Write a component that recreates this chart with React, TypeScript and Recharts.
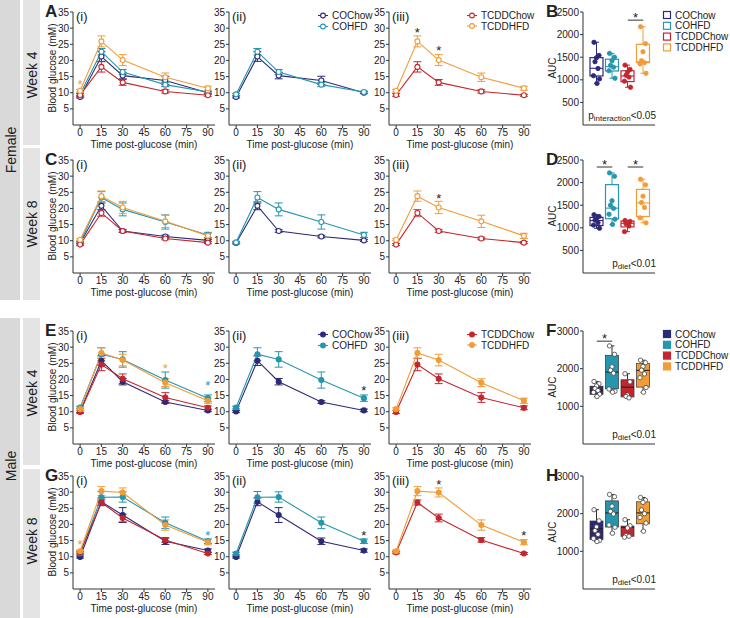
import React from 'react';
import { ComposedChart, Line, ErrorBar, XAxis, YAxis, Scatter, Bar, ReferenceLine } from 'recharts';

const TIMES = [0, 15, 30, 60, 90];
const TICK_T = [0, 15, 30, 45, 60, 75, 90];
const TICK_G = [5, 10, 15, 20, 25, 30, 35];
const TICK_AUC_F = [0, 500, 1000, 1500, 2000, 2500];
const TICK_AUC_M = [0, 1000, 2000, 3000];
const GROUPS = ['COChow', 'COHFD', 'TCDDChow', 'TCDDHFD'];

const COLORS: Record<string, string> = {
  COChow: '#2c2a78',
  COHFD: '#2596ae',
  TCDDChow: '#c4262e',
  TCDDHFD: '#f29c38',
};
const INK = '#222';

// blood glucose (mM), mean / SEM
// female week 4
const F4_COCHOW = [8.7, 21.2, 15.3, 13.8, 10.0];
const F4_COCHOW_SEM = [0.3, 1.5, 1.0, 1.3, 0.3];
const F4_COHFD = [9.5, 22.7, 16.4, 12.5, 10.2];
const F4_COHFD_SEM = [0.3, 1.0, 0.8, 0.6, 0.3];
const F4_TCDDCHOW = [9.3, 18.0, 13.2, 10.4, 9.2];
const F4_TCDDCHOW_SEM = [0.4, 1.6, 0.9, 0.5, 0.3];
const F4_TCDDHFD = [10.6, 25.9, 20.1, 14.8, 11.4];
const F4_TCDDHFD_SEM = [0.4, 1.7, 1.7, 1.3, 0.6];
// female week 8
const F8_COCHOW = [9.3, 20.8, 13.0, 11.3, 10.1];
const F8_COCHOW_SEM = [0.3, 1.2, 0.4, 0.4, 0.3];
const F8_COHFD = [9.5, 23.4, 19.7, 15.8, 11.8];
const F8_COHFD_SEM = [0.3, 1.8, 2.0, 2.2, 0.8];
const F8_TCDDCHOW = [8.8, 18.6, 13.0, 10.7, 9.4];
const F8_TCDDCHOW_SEM = [0.3, 1.0, 0.4, 0.4, 0.3];
const F8_TCDDHFD = [10.3, 23.8, 20.3, 16.0, 11.5];
const F8_TCDDHFD_SEM = [0.3, 1.6, 1.9, 1.9, 0.8];
// male week 4
const M4_COCHOW = [10.1, 25.8, 19.3, 13.0, 10.4];
const M4_COCHOW_SEM = [0.3, 1.5, 1.0, 0.4, 0.4];
const M4_COHFD = [11.3, 27.8, 26.2, 19.8, 14.2];
const M4_COHFD_SEM = [0.4, 2.0, 2.4, 2.5, 1.0];
const M4_TCDDCHOW = [9.9, 24.6, 20.2, 14.4, 11.2];
const M4_TCDDCHOW_SEM = [0.5, 1.9, 1.5, 1.5, 0.6];
const M4_TCDDHFD = [10.8, 28.2, 26.0, 19.0, 13.4];
const M4_TCDDHFD_SEM = [0.4, 1.6, 1.8, 1.2, 0.8];
// male week 8
const M8_COCHOW = [9.9, 27.0, 22.9, 14.8, 11.9];
const M8_COCHOW_SEM = [0.3, 1.2, 2.3, 1.0, 0.5];
const M8_COHFD = [11.0, 28.4, 28.5, 20.5, 14.8];
const M8_COHFD_SEM = [0.4, 1.8, 1.6, 1.8, 0.7];
const M8_TCDDCHOW = [11.3, 26.8, 22.0, 15.2, 11.0];
const M8_TCDDCHOW_SEM = [0.4, 0.8, 1.2, 0.7, 0.3];
const M8_TCDDHFD = [11.7, 30.3, 29.9, 19.8, 14.5];
const M8_TCDDHFD_SEM = [0.4, 1.4, 1.4, 1.6, 0.8];

// significance stars per panel (i), (ii), (iii)
const F4_STARS = [[{ t: 0, y: 13.3, c: COLORS.TCDDHFD }], [], [{ t: 15, y: 29.4, c: INK }, { t: 30, y: 23.8, c: INK }]];
const F8_STARS = [[], [], [{ t: 30, y: 24.0, c: INK }]];
const M4_STARS = [[{ t: 60, y: 24.2, c: COLORS.TCDDHFD }, { t: 90, y: 18.8, c: COLORS.COHFD }], [{ t: 90, y: 17.3, c: INK }], []];
const M8_STARS = [[{ t: 0, y: 14.5, c: COLORS.TCDDHFD }, { t: 90, y: 17.3, c: COLORS.COHFD }], [{ t: 90, y: 17.4, c: INK }], [{ t: 30, y: 33.2, c: INK }, { t: 90, y: 17.2, c: INK }]];

// AUC: [min, q1, median, q3, max] and individual animals
const F4_AUC_COCHOW = [920, 1085, 1255, 1490, 1830];
const F4_AUC_COHFD = [1035, 1195, 1290, 1455, 1585];
const F4_AUC_TCDDCHOW = [835, 960, 1085, 1200, 1325];
const F4_AUC_TCDDHFD = [1145, 1380, 1400, 1785, 2175];
const F4_PTS_COCHOW = [1830, 1540, 1490, 1400, 1250, 1090, 1020, 920];
const F4_PTS_COHFD = [1585, 1500, 1420, 1320, 1280, 1200, 1035];
const F4_PTS_TCDDCHOW = [1325, 1230, 1170, 1100, 1060, 970, 835];
const F4_PTS_TCDDHFD = [2175, 1800, 1620, 1420, 1380, 1350, 1145];

const F8_AUC_COCHOW = [990, 1050, 1160, 1230, 1290];
const F8_AUC_COHFD = [1075, 1200, 1435, 1955, 2215];
const F8_AUC_TCDDCHOW = [915, 1020, 1100, 1150, 1160];
const F8_AUC_TCDDHFD = [1110, 1250, 1550, 1850, 2075];
const F8_PTS_COCHOW = [1290, 1250, 1200, 1170, 1110, 1060, 990];
const F8_PTS_COHFD = [2215, 2140, 1600, 1500, 1430, 1300, 1190, 1075];
const F8_PTS_TCDDCHOW = [1160, 1140, 1110, 1090, 1040, 915];
const F8_PTS_TCDDHFD = [2075, 1950, 1700, 1560, 1450, 1220, 1110];

const M4_AUC_COCHOW = [1260, 1315, 1420, 1535, 1660];
const M4_AUC_COHFD = [1375, 1465, 1910, 2355, 2605];
const M4_AUC_TCDDCHOW = [1225, 1250, 1510, 1705, 1865];
const M4_AUC_TCDDHFD = [1375, 1510, 1955, 2135, 2225];
const M4_PTS_COCHOW = [1660, 1600, 1540, 1470, 1420, 1370, 1320, 1260];
const M4_PTS_COHFD = [2605, 2380, 2050, 1960, 1880, 1460, 1400, 1375];
const M4_PTS_TCDDCHOW = [1865, 1650, 1300, 1265, 1225];
const M4_PTS_TCDDHFD = [2225, 2160, 2060, 1960, 1860, 1760, 1500, 1375];

const M8_AUC_COCHOW = [1260, 1315, 1600, 1805, 2105];
const M8_AUC_COHFD = [1480, 1645, 2020, 2340, 2510];
const M8_AUC_TCDDCHOW = [1375, 1400, 1640, 1670, 1840];
const M8_AUC_TCDDHFD = [1535, 1730, 2020, 2315, 2430];
const M8_PTS_COCHOW = [2105, 1810, 1650, 1550, 1450, 1340, 1290, 1260];
const M8_PTS_COHFD = [2510, 2450, 2200, 2060, 1990, 1700, 1640, 1480];
const M8_PTS_TCDDCHOW = [1840, 1680, 1620, 1420, 1400, 1375];
const M8_PTS_TCDDHFD = [2430, 2360, 2300, 2100, 2000, 1900, 1750, 1535];

const JITTER = [-2.5, 2.5, 0, -1.5, 1.5, -3, 3, 0.5];

const glucoseRows = (mean: number[][], sem: number[][]) =>
  TIMES.map((t, i) => {
    const r: any = { t };
    GROUPS.forEach((g, k) => {
      r[g] = mean[k][i];
      r[g + 'Err'] = sem[k][i];
    });
    return r;
  });

const boxRows = (stats: number[][], pts: number[][]) =>
  GROUPS.map((g, k) => ({
    g,
    min: stats[k][0],
    q1: stats[k][1],
    med: stats[k][2],
    q3: stats[k][3],
    max: stats[k][4],
    pts: pts[k],
  }));

const ROWS = [
  {
    top: 12, filled: false, stars: F4_STARS, letter: 'A', boxLetter: 'B',
    data: glucoseRows([F4_COCHOW, F4_COHFD, F4_TCDDCHOW, F4_TCDDHFD], [F4_COCHOW_SEM, F4_COHFD_SEM, F4_TCDDCHOW_SEM, F4_TCDDHFD_SEM]),
    boxes: boxRows([F4_AUC_COCHOW, F4_AUC_COHFD, F4_AUC_TCDDCHOW, F4_AUC_TCDDHFD], [F4_PTS_COCHOW, F4_PTS_COHFD, F4_PTS_TCDDCHOW, F4_PTS_TCDDHFD]),
    aucTicks: TICK_AUC_F, sig: [['TCDDChow', 'TCDDHFD', 2320]], note: 'interaction', p: '<0.05',
  },
  {
    top: 160, filled: false, stars: F8_STARS, letter: 'C', boxLetter: 'D',
    data: glucoseRows([F8_COCHOW, F8_COHFD, F8_TCDDCHOW, F8_TCDDHFD], [F8_COCHOW_SEM, F8_COHFD_SEM, F8_TCDDCHOW_SEM, F8_TCDDHFD_SEM]),
    boxes: boxRows([F8_AUC_COCHOW, F8_AUC_COHFD, F8_AUC_TCDDCHOW, F8_AUC_TCDDHFD], [F8_PTS_COCHOW, F8_PTS_COHFD, F8_PTS_TCDDCHOW, F8_PTS_TCDDHFD]),
    aucTicks: TICK_AUC_F, sig: [['COChow', 'COHFD', 2345], ['TCDDChow', 'TCDDHFD', 2345]], note: 'diet', p: '<0.01',
  },
  {
    top: 331, filled: true, stars: M4_STARS, letter: 'E', boxLetter: 'F',
    data: glucoseRows([M4_COCHOW, M4_COHFD, M4_TCDDCHOW, M4_TCDDHFD], [M4_COCHOW_SEM, M4_COHFD_SEM, M4_TCDDCHOW_SEM, M4_TCDDHFD_SEM]),
    boxes: boxRows([M4_AUC_COCHOW, M4_AUC_COHFD, M4_AUC_TCDDCHOW, M4_AUC_TCDDHFD], [M4_PTS_COCHOW, M4_PTS_COHFD, M4_PTS_TCDDCHOW, M4_PTS_TCDDHFD]),
    aucTicks: TICK_AUC_M, sig: [['COChow', 'COHFD', 2730]], note: 'diet', p: '<0.01',
  },
  {
    top: 476, filled: true, stars: M8_STARS, letter: 'G', boxLetter: 'H',
    data: glucoseRows([M8_COCHOW, M8_COHFD, M8_TCDDCHOW, M8_TCDDHFD], [M8_COCHOW_SEM, M8_COHFD_SEM, M8_TCDDCHOW_SEM, M8_TCDDHFD_SEM]),
    boxes: boxRows([M8_AUC_COCHOW, M8_AUC_COHFD, M8_AUC_TCDDCHOW, M8_AUC_TCDDHFD], [M8_PTS_COCHOW, M8_PTS_COHFD, M8_PTS_TCDDCHOW, M8_PTS_TCDDHFD]),
    aucTicks: TICK_AUC_M, sig: [], note: 'diet', p: '<0.01',
  },
];

const PANEL_LEFT = [73, 229, 389];
const PANEL_GROUPS = [GROUPS, ['COChow', 'COHFD'], ['TCDDChow', 'TCDDHFD']];
const PANEL_TAG = ['(i)', '(ii)', '(iii)'];
const PLOT_W = 142;
const PLOT_H = 113;
const BOX_LEFT = 583;
const BOX_W = 72;

const tickStyle = { fontSize: 10, fill: INK };

const StarMark = (p: any) => (
  <text x={p.cx} y={p.cy + 7} textAnchor="middle" fontSize={13} fill={p.payload.c}>
    *
  </text>
);

function GlucosePanel({ left, top, data, groups, filled, stars }: any) {
  return (
    <div style={{ position: 'absolute', left: left - 26, top: top - 6 }}>
      <ComposedChart width={26 + PLOT_W + 3} height={6 + PLOT_H + 16} data={data} margin={{ top: 6, right: 3, left: 0, bottom: 0 }}>
        <XAxis dataKey="t" type="number" domain={[-5, 95]} ticks={TICK_T} allowDataOverflow tickSize={3} tickMargin={1} tick={tickStyle} stroke="#333" height={16} />
        <YAxis type="number" domain={[0, 35]} ticks={TICK_G} tickSize={3} tickMargin={1} tick={tickStyle} stroke="#333" width={26} />
        {groups.map((g: string) => (
          <Line
            key={g}
            dataKey={g}
            stroke={COLORS[g]}
            strokeWidth={1.1}
            dot={{ r: 2.5, fill: filled ? COLORS[g] : '#fff', stroke: COLORS[g], strokeWidth: 1.1 }}
            activeDot={false}
            isAnimationActive={false}
          >
            <ErrorBar dataKey={g + 'Err'} width={4} stroke={COLORS[g]} strokeWidth={1} />
          </Line>
        ))}
        {stars.length > 0 && <Scatter data={stars} dataKey="y" shape={StarMark} isAnimationActive={false} />}
      </ComposedChart>
    </div>
  );
}

function BoxShape(p: any) {
  const { x, y, width, height, payload: d, filled } = p;
  if (!d) return null;
  const color = COLORS[d.g];
  const top = Math.min(y, y + height);
  const k = Math.abs(height) / (d.max - d.min);
  const py = (v: number) => top + (d.max - v) * k;
  const cx = x + width / 2;
  const edge = filled ? '#333' : color;
  return (
    <g>
      <line x1={cx} x2={cx} y1={py(d.max)} y2={py(d.q3)} stroke={edge} strokeWidth={1} />
      <line x1={cx} x2={cx} y1={py(d.q1)} y2={py(d.min)} stroke={edge} strokeWidth={1} />
      <line x1={cx - 2.5} x2={cx + 2.5} y1={py(d.max)} y2={py(d.max)} stroke={edge} strokeWidth={1} />
      <line x1={cx - 2.5} x2={cx + 2.5} y1={py(d.min)} y2={py(d.min)} stroke={edge} strokeWidth={1} />
      <rect
        x={x}
        y={py(d.q3)}
        width={width}
        height={py(d.q1) - py(d.q3)}
        fill={filled ? color : '#fff'}
        stroke={filled ? '#333' : color}
        strokeWidth={filled ? 0.7 : 1.2}
      />
      <line x1={x} x2={x + width} y1={py(d.med)} y2={py(d.med)} stroke={filled ? '#222' : color} strokeWidth={1.1} />
      {d.pts.map((v: number, i: number) => (
        <circle
          key={i}
          cx={cx + JITTER[i % JITTER.length]}
          cy={py(v)}
          r={2.2}
          fill={filled ? '#fff' : color}
          stroke={filled ? '#444' : color}
          strokeWidth={0.8}
        />
      ))}
    </g>
  );
}

const sigLabel = (lp: any) => {
  const vb = lp.viewBox || {};
  return (
    <text x={vb.x + (vb.width || 0) / 2} y={vb.y + 2} textAnchor="middle" fontSize={13} fill={INK}>
      *
    </text>
  );
};

function AucPanel({ top, boxes, ticks, filled, sig }: any) {
  const yMax = ticks[ticks.length - 1];
  return (
    <div style={{ position: 'absolute', left: BOX_LEFT - 30, top: top - 6 }}>
      <ComposedChart width={30 + BOX_W + 3} height={6 + PLOT_H + 2} data={boxes} margin={{ top: 6, right: 3, left: 0, bottom: 0 }}>
        <XAxis dataKey="g" type="category" tick={false} tickLine={false} stroke="#333" height={2} padding={{ left: 6, right: 4 }} />
        <YAxis type="number" domain={[0, yMax]} ticks={ticks} tickSize={3} tickMargin={1} tick={tickStyle} stroke="#333" width={30} />
        <Bar
          dataKey={(d: any) => [d.min, d.max]}
          barSize={13}
          shape={(p: any) => <BoxShape {...p} filled={filled} />}
          isAnimationActive={false}
        />
        {sig.map((s: any, i: number) => (
          <ReferenceLine
            key={i}
            segment={[{ x: s[0], y: s[2] }, { x: s[1], y: s[2] }]}
            stroke="#333"
            strokeWidth={1}
            label={sigLabel}
          />
        ))}
      </ComposedChart>
    </div>
  );
}

function VText({ x, y, size, children, weight }: any) {
  return (
    <text transform={`translate(${x},${y}) rotate(-90)`} textAnchor="middle" fontSize={size} fontWeight={weight} dy={size * 0.36} fill={INK}>
      {children}
    </text>
  );
}

function LegendLine({ x, y, g, filled }: any) {
  return (
    <g>
      <line x1={x - 5} x2={x + 5} y1={y} y2={y} stroke={COLORS[g]} strokeWidth={1.1} />
      <circle cx={x} cy={y} r={2.4} fill={filled ? COLORS[g] : '#fff'} stroke={COLORS[g]} strokeWidth={1.1} />
      <text x={x + 9} y={y + 3.6} fontSize={10} fill={INK}>
        {g}
      </text>
    </g>
  );
}

function LegendBox({ x, y, g, filled }: any) {
  return (
    <g>
      <rect x={x - 3.5} y={y - 3.5} width={7} height={7} fill={filled ? COLORS[g] : '#fff'} stroke={COLORS[g]} strokeWidth={1.2} />
      <text x={x + 8} y={y + 3.6} fontSize={10} fill={INK}>
        {g}
      </text>
    </g>
  );
}

function Overlay() {
  return (
    <svg width={730} height={618} style={{ position: 'absolute', left: 0, top: 0, pointerEvents: 'none' }}>
      <rect x={0} y={0} width={20} height={300} fill="#d9d9d9" />
      <rect x={0} y={318} width={20} height={300} fill="#d9d9d9" />
      <rect x={23} y={0} width={17} height={145} fill="#e4e4e4" />
      <rect x={23} y={148} width={17} height={152} fill="#e4e4e4" />
      <rect x={23} y={318} width={17} height={147} fill="#e4e4e4" />
      <rect x={23} y={469} width={17} height={149} fill="#e4e4e4" />
      <VText x={11} y={150} size={14}>Female</VText>
      <VText x={11} y={466} size={14}>Male</VText>
      <VText x={31.5} y={75} size={14}>Week 4</VText>
      <VText x={31.5} y={224} size={14}>Week 8</VText>
      <VText x={31.5} y={393} size={14}>Week 4</VText>
      <VText x={31.5} y={541} size={14}>Week 8</VText>

      {ROWS.map((r, ri) => (
        <g key={ri}>
          <text x={45} y={r.top + 5} fontSize={17} fontWeight="bold" fill={INK}>{r.letter}</text>
          <text x={546} y={r.top + 5} fontSize={17} fontWeight="bold" fill={INK}>{r.boxLetter}</text>
          {PANEL_LEFT.map((pl, pi) => (
            <g key={pi}>
              <text x={pl + 3} y={r.top + 9} fontSize={13} fill={INK}>{PANEL_TAG[pi]}</text>
              <text x={pl + PLOT_W / 2} y={r.top + PLOT_H + 23} fontSize={10} textAnchor="middle" fill={INK}>
                Time post-glucose (min)
              </text>
            </g>
          ))}
          <VText x={52} y={r.top + 56} size={10}>Blood glucose (mM)</VText>
          <VText x={552.5} y={r.top + 56} size={10}>AUC</VText>
          <text x={656} y={r.top + 107} fontSize={10} textAnchor="end" fill={INK}>
            p<tspan fontSize={8} dy={2}>{r.note}</tspan>
            <tspan dy={-2}>{r.p}</tspan>
          </text>
        </g>
      ))}

      {[0, 2].map((ri) => {
        const r = ROWS[ri];
        return (
          <g key={ri}>
            <LegendLine x={323} y={r.top + 3.5} g="COChow" filled={r.filled} />
            <LegendLine x={323} y={r.top + 14.5} g="COHFD" filled={r.filled} />
            <LegendLine x={472} y={r.top + 3.5} g="TCDDChow" filled={r.filled} />
            <LegendLine x={472} y={r.top + 14} g="TCDDHFD" filled={r.filled} />
            {GROUPS.map((g, i) => (
              <LegendBox key={g} x={667} y={r.top + 3 + i * 10.8} g={g} filled={r.filled} />
            ))}
          </g>
        );
      })}
    </svg>
  );
}

export default function App() {
  return (
    <div
      style={{
        position: 'absolute',
        left: 0,
        top: 0,
        width: 730,
        height: 618,
        background: '#fff',
        overflow: 'hidden',
        fontFamily: '"Liberation Sans", Arial, sans-serif',
      }}
    >
      {ROWS.map((r, ri) => (
        <React.Fragment key={ri}>
          {PANEL_LEFT.map((pl, pi) => (
            <GlucosePanel
              key={pi}
              left={pl}
              top={r.top}
              data={r.data}
              groups={PANEL_GROUPS[pi]}
              filled={r.filled}
              stars={r.stars[pi]}
            />
          ))}
          <AucPanel top={r.top} boxes={r.boxes} ticks={r.aucTicks} filled={r.filled} sig={r.sig} />
        </React.Fragment>
      ))}
      <Overlay />
    </div>
  );
}
